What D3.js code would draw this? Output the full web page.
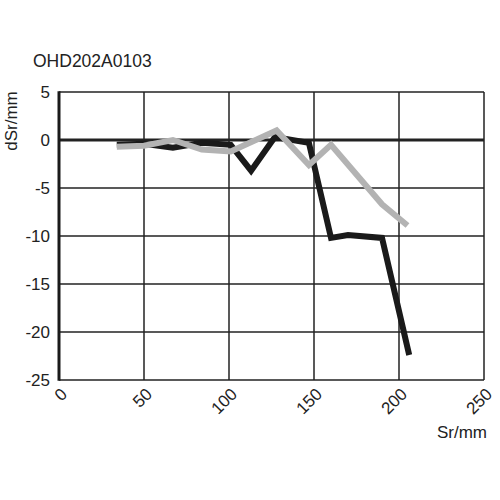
<!DOCTYPE html>
<html>
<head>
<meta charset="utf-8">
<script src="https://cdn.jsdelivr.net/npm/d3@7"></script>
<style>
  body { margin: 0; background: #fff; }
  text { font-family: "Liberation Sans", Arial, sans-serif; fill: #222; }
</style>
</head>
<body>
<div id="chart"></div>
<script>
var width = 500;
var height = 500;

var title = "OHD202A0103";
var xTicks = [0, 50, 100, 150, 200, 250];
var yTicks = [5, 0, -5, -10, -15, -20, -25];

// black series
var blackSr = [34, 50, 67, 84, 101, 113, 127, 147, 160, 170, 190, 206];
var blackD = [-0.5, -0.4, -0.8, -0.3, -0.5, -3.2, 0.3, -0.3, -10.2, -9.9, -10.2, -22.4];

// grey series
var greySr = [34, 50, 67, 84, 101, 128, 147, 160, 190, 205];
var greyD = [-0.7, -0.6, 0.0, -1.0, -1.2, 1.0, -2.6, -0.5, -6.7, -8.9];

// plot box (window.top is reserved, so prefixed names)
var plotL = 59, plotR = 484, plotT = 92, plotB = 380;

var x = d3.scaleLinear().domain([0, 250]).range([plotL, plotR]);
var y = d3.scaleLinear().domain([-25, 5]).range([plotB, plotT]);

var svg = d3.select("#chart")
    .append("svg")
    .attr("width", width)
    .attr("height", height);

// grid
svg.append("g")
    .selectAll("line")
    .data(xTicks)
    .enter()
    .append("line")
    .attr("x1", function(d) { return x(d); })
    .attr("x2", function(d) { return x(d); })
    .attr("y1", plotT)
    .attr("y2", plotB)
    .attr("stroke", "#222")
    .attr("stroke-width", 1.5);

svg.append("g")
    .selectAll("line")
    .data(yTicks)
    .enter()
    .append("line")
    .attr("x1", plotL)
    .attr("x2", plotR)
    .attr("y1", function(d) { return y(d); })
    .attr("y2", function(d) { return y(d); })
    .attr("stroke", "#222")
    .attr("stroke-width", function(d) { return d === 0 ? 2.8 : 1.5; });

// thick left axis
svg.append("line")
    .attr("x1", x(0)).attr("x2", x(0))
    .attr("y1", plotT - 0.75).attr("y2", plotB + 0.75)
    .attr("stroke", "#1a1a1a")
    .attr("stroke-width", 3);

// y tick labels
svg.append("g")
    .selectAll("text")
    .data(yTicks)
    .enter()
    .append("text")
    .attr("x", 50)
    .attr("y", function(d) { return y(d); })
    .attr("dy", "0.35em")
    .attr("text-anchor", "end")
    .attr("font-size", "17px")
    .text(function(d) { return d; });

// x tick labels, rotated
svg.append("g")
    .selectAll("text")
    .data(xTicks)
    .enter()
    .append("text")
    .attr("transform", function(d) {
        return "translate(" + (x(d) + 5) + "," + (plotB + 11) + ") rotate(-45)";
    })
    .attr("text-anchor", "end")
    .attr("dy", "0.35em")
    .attr("font-size", "17px")
    .text(function(d) { return d; });

// lines
var line = d3.line()
    .x(function(d) { return x(d[0]); })
    .y(function(d) { return y(d[1]); });

svg.append("path")
    .datum(d3.zip(blackSr, blackD))
    .attr("d", line)
    .attr("fill", "none")
    .attr("stroke", "#1a1a1a")
    .attr("stroke-width", 6)
    .attr("stroke-linejoin", "miter");

svg.append("path")
    .datum(d3.zip(greySr, greyD))
    .attr("d", line)
    .attr("fill", "none")
    .attr("stroke", "#b3b3b3")
    .attr("stroke-width", 6)
    .attr("stroke-linejoin", "miter");

// labels
svg.append("text")
    .attr("x", 33)
    .attr("y", 67)
    .attr("font-size", "17.5px")
    .text(title);

svg.append("text")
    .attr("transform", "translate(17,121) rotate(-90)")
    .attr("text-anchor", "middle")
    .attr("font-size", "17px")
    .text("dSr/mm");

svg.append("text")
    .attr("x", 487)
    .attr("y", 438)
    .attr("text-anchor", "end")
    .attr("font-size", "17px")
    .text("Sr/mm");
</script>
</body>
</html>
